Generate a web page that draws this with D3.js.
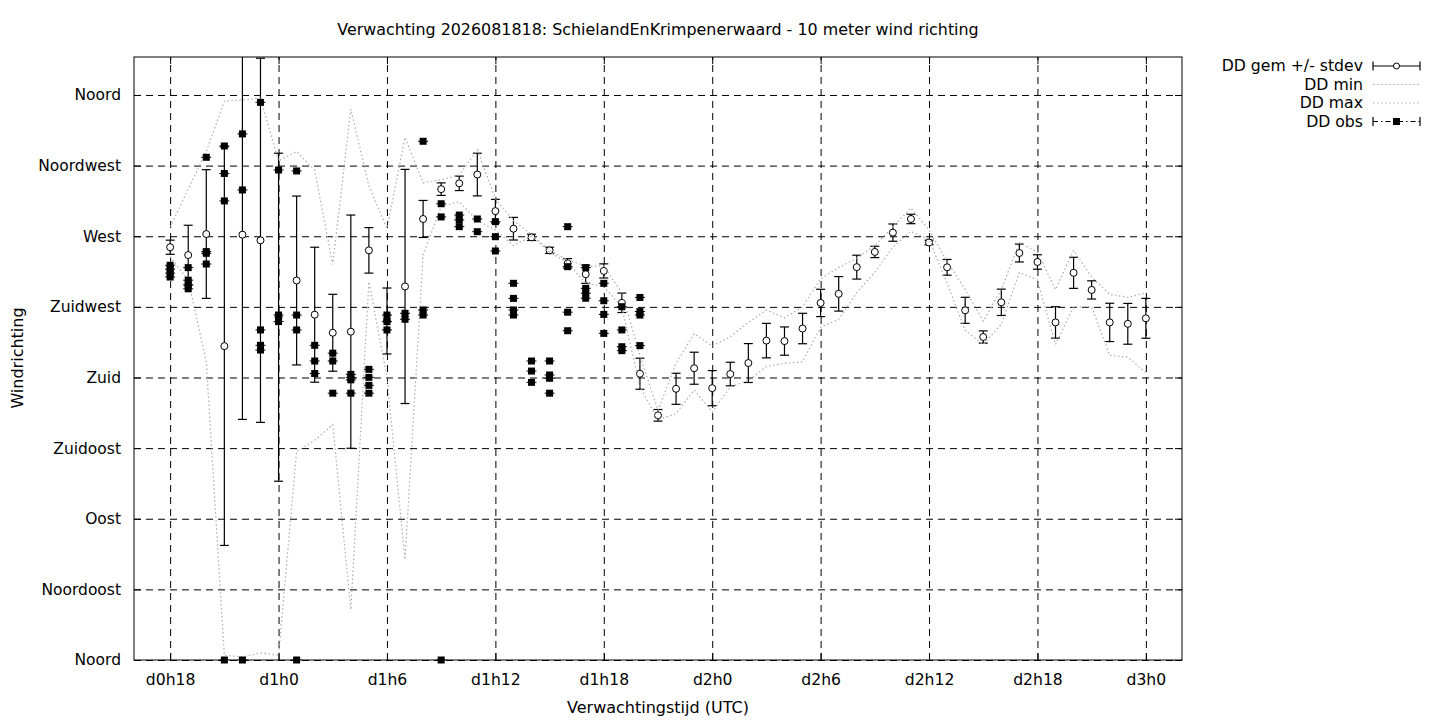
<!DOCTYPE html>
<html>
<head>
<meta charset="utf-8">
<script src="https://cdn.jsdelivr.net/npm/d3@7/dist/d3.min.js"></script>
<style>
    body { margin: 0; background: #ffffff; }
    svg { font-family: "DejaVu Sans", sans-serif; }
</style>
</head>
<body>
<script>
// verwachtingsuren (uren na d0h0)
var hours = [18, 19, 20, 21, 22, 23, 24, 25, 26, 27, 28, 29, 30, 31, 32, 33, 34, 35, 36,
    37, 38, 39, 40, 41, 42, 43, 44, 45, 46, 47, 48, 49, 50, 51, 52, 53, 54, 55, 56,
    57, 58, 59, 60, 61, 62, 63, 64, 65, 66, 67, 68, 69, 70, 71, 72];

// DD gemiddelde en stdev (graden)
var ddGem = [263, 258, 271.4, 200, 271, 267.4, 218.4, 241.8, 220, 208.5, 209.2, 261, 216, 238, 281, 300, 303.7, 309.3, 286,
    274.8, 269.3, 261, 252.7, 245.8, 247.9, 227.6, 182.4, 155.9, 172.8, 185.9, 173.2, 182.2, 189.2, 203.5, 203.2, 211.2, 227.5, 233.3, 250.3,
    260, 272.3, 281, 266, 250.2, 222.8, 205.8, 227.9, 259.3, 253.6, 215.1, 246.7, 235.8, 215.1, 214.2, 217.7];
var ddStdev = [4.5, 19, 41, 127, 117.7, 116, 104.5, 53.8, 43, 24.5, 74.3, 14.5, 21, 74.6, 11.8, 4, 4.6, 13.6, 7.5,
    7.2, 2, 2, 3, 5.8, 4.5, 6.2, 9.9, 3.7, 9.9, 10.2, 11.2, 7.5, 12.4, 11, 9, 9.7, 8.7, 11, 7.6,
    3.6, 5.5, 3, 1.5, 5, 8.3, 3.9, 8.4, 5.7, 4.6, 10, 9.9, 5.8, 12.2, 13, 12.7];

// DD min en max
var ddMin = [257, 242, 190, 3, 2, 4.5, 3, 133, 140, 150, 32, 241, 180, 64, 258, 289, 292, 280, 274,
    264, 270, 260, 253, 240, 238, 225, 174, 153, 157, 172, 158, 174, 178, 187, 189, 190, 212, 217, 234,
    247, 263, 273, 268, 240, 210, 201, 214, 247, 242, 201, 225, 225, 194, 193, 183];
var ddMax = [276, 300, 324, 356, 357, 358, 318, 324, 312, 252, 351, 302, 275, 333, 304, 306, 309, 325, 294,
    280, 271, 261, 255, 251, 251, 234, 194, 159, 189, 208, 200, 206, 215, 223, 218, 225, 243, 250, 256,
    264, 276, 288, 274, 254, 236, 216, 236, 266, 260, 236, 261, 244, 233, 231, 234];

// waarnemingen per uur
var obsHours = [18, 19, 20, 21, 22, 23, 24, 25, 26, 27, 28, 29, 30, 31, 32, 33, 34, 35, 36,
    37, 38, 39, 40, 41, 42, 43, 44];
var obsValues = [
    [251.5, 249, 246.5, 244],
    [250, 242, 239, 236.5],
    [320.3, 260.2, 259.1, 252.3],
    [327.5, 310, 292.5, 0],
    [335.2, 299.5, 0],
    [355.3, 210.3, 200.5, 197.5],
    [312.2, 219.8, 215.6],
    [311.6, 219.8, 210.3, 0],
    [200.5, 190.5, 182.5],
    [195.5, 190.5, 170],
    [182, 180, 178.5, 170],
    [185.2, 180.1, 175, 170],
    [219.8, 215.6, 210.3],
    [220.9, 217.1],
    [330.5, 223, 219.8],
    [290.7, 282.3, 0],
    [283.5, 280.4, 276.1],
    [281, 272.9],
    [279.3, 269.7, 260.6],
    [240, 230.4, 223, 219.8],
    [190.5, 184.1, 176.9],
    [190.5, 181.6, 179.5, 170],
    [276.1, 250.6, 221.6, 209.8],
    [250, 236.8, 233.7, 230.5],
    [240, 228.9, 220.2, 208.1],
    [225.1, 210.3, 199.6, 197.1],
    [231, 222, 219.8, 200.3]
];

var yTickValues = [0, 45, 90, 135, 180, 225, 270, 315, 360];
var yTickLabels = ['Noord', 'Noordoost', 'Oost', 'Zuidoost', 'Zuid', 'Zuidwest', 'West', 'Noordwest', 'Noord'];
var xTickValues = [18, 24, 30, 36, 42, 48, 54, 60, 66, 72];
var xTickLabels = ['d0h18', 'd1h0', 'd1h6', 'd1h12', 'd1h18', 'd2h0', 'd2h6', 'd2h12', 'd2h18', 'd3h0'];

var titleText = 'Verwachting 2026081818: SchielandEnKrimpenerwaard - 10 meter wind richting';
var legendLabels = ['DD gem +/- stdev', 'DD min', 'DD max', 'DD obs'];

var svgWidth = 1440;
var svgHeight = 720;
var plotLeft = 134;
var plotRight = 1182;
var plotTop = 57;
var plotBottom = 660;
var dotColor = '#acacac';

var xScale = d3.scaleLinear()
    .domain([16, 74])
    .range([plotLeft, plotRight]);

var yScale = d3.scaleLinear()
    .domain([0, 384.2])
    .range([plotBottom, plotTop]);

var svg = d3.select('body').append('svg')
    .attr('width', svgWidth)
    .attr('height', svgHeight);

svg.append('defs').append('clipPath')
    .attr('id', 'plotclip')
    .append('rect')
    .attr('x', plotLeft)
    .attr('y', plotTop)
    .attr('width', plotRight - plotLeft)
    .attr('height', plotBottom - plotTop);

// grid
var gridX = d3.axisBottom(xScale)
    .tickValues(xTickValues)
    .tickSize(-(plotBottom - plotTop))
    .tickFormat('');
svg.append('g')
    .attr('class', 'grid')
    .attr('transform', 'translate(0,' + plotBottom + ')')
    .call(gridX);

var gridY = d3.axisLeft(yScale)
    .tickValues(yTickValues)
    .tickSize(-(plotRight - plotLeft))
    .tickFormat('');
svg.append('g')
    .attr('class', 'grid')
    .attr('transform', 'translate(' + plotLeft + ',0)')
    .call(gridY);

svg.selectAll('.grid .domain').remove();
svg.selectAll('.grid line')
    .attr('stroke', '#000')
    .attr('stroke-width', 1)
    .attr('stroke-dasharray', '7,5');

// axes with labels and small inward ticks
var yAxis = d3.axisLeft(yScale)
    .tickValues(yTickValues)
    .tickSize(-7)
    .tickPadding(13)
    .tickFormat(function(d, i) { return yTickLabels[i]; });
svg.append('g')
    .attr('class', 'axis yaxis')
    .attr('transform', 'translate(' + plotLeft + ',0)')
    .call(yAxis);

var yAxisRight = d3.axisRight(yScale)
    .tickValues(yTickValues)
    .tickSize(-7)
    .tickFormat('');
svg.append('g')
    .attr('class', 'axis')
    .attr('transform', 'translate(' + plotRight + ',0)')
    .call(yAxisRight);

var xAxis = d3.axisBottom(xScale)
    .tickValues(xTickValues)
    .tickSize(-7)
    .tickPadding(14)
    .tickFormat(function(d, i) { return xTickLabels[i]; });
svg.append('g')
    .attr('class', 'axis xaxis')
    .attr('transform', 'translate(0,' + plotBottom + ')')
    .call(xAxis);

var xAxisTop = d3.axisTop(xScale)
    .tickValues(xTickValues)
    .tickSize(-7)
    .tickFormat('');
svg.append('g')
    .attr('class', 'axis')
    .attr('transform', 'translate(0,' + plotTop + ')')
    .call(xAxisTop);

svg.selectAll('.axis .domain').remove();
svg.selectAll('.axis line').attr('stroke', '#000');
svg.selectAll('.axis text')
    .attr('font-family', '"DejaVu Sans", sans-serif')
    .attr('fill', '#000');
svg.selectAll('.yaxis text').attr('font-size', 15.5);
svg.selectAll('.xaxis text').attr('font-size', 15.6);

// border
svg.append('rect')
    .attr('x', plotLeft)
    .attr('y', plotTop)
    .attr('width', plotRight - plotLeft)
    .attr('height', plotBottom - plotTop)
    .attr('fill', 'none')
    .attr('stroke', '#000')
    .attr('stroke-width', 1);

var plot = svg.append('g').attr('clip-path', 'url(#plotclip)');

var gemData = hours.map(function(h, i) {
    return { h: h, mean: ddGem[i], sd: ddStdev[i] };
});

// DD gem +/- stdev
var bars = plot.selectAll('.errbar')
    .data(gemData)
    .enter()
    .append('g')
    .attr('class', 'errbar');

bars.append('line')
    .attr('x1', function(d) { return xScale(d.h); })
    .attr('x2', function(d) { return xScale(d.h); })
    .attr('y1', function(d) { return yScale(d.mean - d.sd); })
    .attr('y2', function(d) { return yScale(d.mean + d.sd); })
    .attr('stroke', '#000')
    .attr('stroke-width', 1.2);

bars.append('line')
    .attr('x1', function(d) { return xScale(d.h) - 4.5; })
    .attr('x2', function(d) { return xScale(d.h) + 4.5; })
    .attr('y1', function(d) { return yScale(d.mean - d.sd); })
    .attr('y2', function(d) { return yScale(d.mean - d.sd); })
    .attr('stroke', '#000')
    .attr('stroke-width', 1.2);

bars.append('line')
    .attr('x1', function(d) { return xScale(d.h) - 4.5; })
    .attr('x2', function(d) { return xScale(d.h) + 4.5; })
    .attr('y1', function(d) { return yScale(d.mean + d.sd); })
    .attr('y2', function(d) { return yScale(d.mean + d.sd); })
    .attr('stroke', '#000')
    .attr('stroke-width', 1.2);

bars.append('circle')
    .attr('cx', function(d) { return xScale(d.h); })
    .attr('cy', function(d) { return yScale(d.mean); })
    .attr('r', 3.5)
    .attr('fill', '#fff')
    .attr('stroke', '#000')
    .attr('stroke-width', 1);

// DD min / max
var ddLine = d3.line()
    .x(function(d, i) { return xScale(hours[i]); })
    .y(function(d) { return yScale(d); });

plot.append('path')
    .datum(ddMin)
    .attr('d', ddLine)
    .attr('fill', 'none')
    .attr('stroke', dotColor)
    .attr('stroke-width', 1.2)
    .attr('stroke-dasharray', '1.5,2.5');

plot.append('path')
    .datum(ddMax)
    .attr('d', ddLine)
    .attr('fill', 'none')
    .attr('stroke', dotColor)
    .attr('stroke-width', 1.2)
    .attr('stroke-dasharray', '1.5,2.5');

// DD obs
var obsData = [];
obsHours.forEach(function(h, i) {
    obsValues[i].forEach(function(v) {
        obsData.push({ h: h, v: v });
    });
});

plot.selectAll('.obscap')
    .data(obsData)
    .enter()
    .append('line')
    .attr('class', 'obscap')
    .attr('x1', function(d) { return xScale(d.h) - 5; })
    .attr('x2', function(d) { return xScale(d.h) + 5; })
    .attr('y1', function(d) { return yScale(d.v); })
    .attr('y2', function(d) { return yScale(d.v); })
    .attr('stroke', '#000')
    .attr('stroke-width', 1);

svg.selectAll('.obs')
    .data(obsData)
    .enter()
    .append('rect')
    .attr('class', 'obs')
    .attr('x', function(d) { return xScale(d.h) - 3.5; })
    .attr('y', function(d) { return yScale(d.v) - 3.5; })
    .attr('width', 7)
    .attr('height', 7)
    .attr('fill', '#000');

// titels
svg.append('text')
    .attr('x', 658)
    .attr('y', 35)
    .attr('text-anchor', 'middle')
    .attr('font-size', 15.9)
    .text(titleText);

svg.append('text')
    .attr('x', 658)
    .attr('y', 713)
    .attr('text-anchor', 'middle')
    .attr('font-size', 16)
    .text('Verwachtingstijd (UTC)');

svg.append('text')
    .attr('transform', 'translate(23,358) rotate(-90)')
    .attr('text-anchor', 'middle')
    .attr('font-size', 16)
    .text('Windrichting');

// legenda
var legendX = 1363;
var sampleX1 = 1373;
var sampleX2 = 1420;
var legendY = [66, 84.5, 103, 121.5];

var legend = svg.append('g');
legend.selectAll('text')
    .data(legendLabels)
    .enter()
    .append('text')
    .attr('x', legendX)
    .attr('y', function(d, i) { return legendY[i]; })
    .attr('dy', '0.35em')
    .attr('text-anchor', 'end')
    .attr('font-size', 15.7)
    .text(function(d) { return d; });

// gem sample
legend.append('line')
    .attr('x1', sampleX1).attr('x2', sampleX2)
    .attr('y1', legendY[0]).attr('y2', legendY[0])
    .attr('stroke', '#000').attr('stroke-width', 1.2);
[sampleX1, sampleX2].forEach(function(x) {
    legend.append('line')
        .attr('x1', x).attr('x2', x)
        .attr('y1', legendY[0] - 4.5).attr('y2', legendY[0] + 4.5)
        .attr('stroke', '#000').attr('stroke-width', 1.2);
});
legend.append('circle')
    .attr('cx', (sampleX1 + sampleX2) / 2)
    .attr('cy', legendY[0])
    .attr('r', 3)
    .attr('fill', '#fff')
    .attr('stroke', '#000');

// min / max samples
[1, 2].forEach(function(k) {
    legend.append('line')
        .attr('x1', sampleX1).attr('x2', sampleX2)
        .attr('y1', legendY[k]).attr('y2', legendY[k])
        .attr('stroke', dotColor).attr('stroke-width', 1.2)
        .attr('stroke-dasharray', '1.5,2.5');
});

// obs sample
legend.append('line')
    .attr('x1', sampleX1).attr('x2', sampleX2)
    .attr('y1', legendY[3]).attr('y2', legendY[3])
    .attr('stroke', '#000').attr('stroke-width', 1)
    .attr('stroke-dasharray', '5,3,1.5,3');
[sampleX1, sampleX2].forEach(function(x) {
    legend.append('line')
        .attr('x1', x).attr('x2', x)
        .attr('y1', legendY[3] - 4.5).attr('y2', legendY[3] + 4.5)
        .attr('stroke', '#000').attr('stroke-width', 1.2);
});
legend.append('rect')
    .attr('x', (sampleX1 + sampleX2) / 2 - 3.5)
    .attr('y', legendY[3] - 3.5)
    .attr('width', 7)
    .attr('height', 7)
    .attr('fill', '#000');
</script>
</body>
</html>
